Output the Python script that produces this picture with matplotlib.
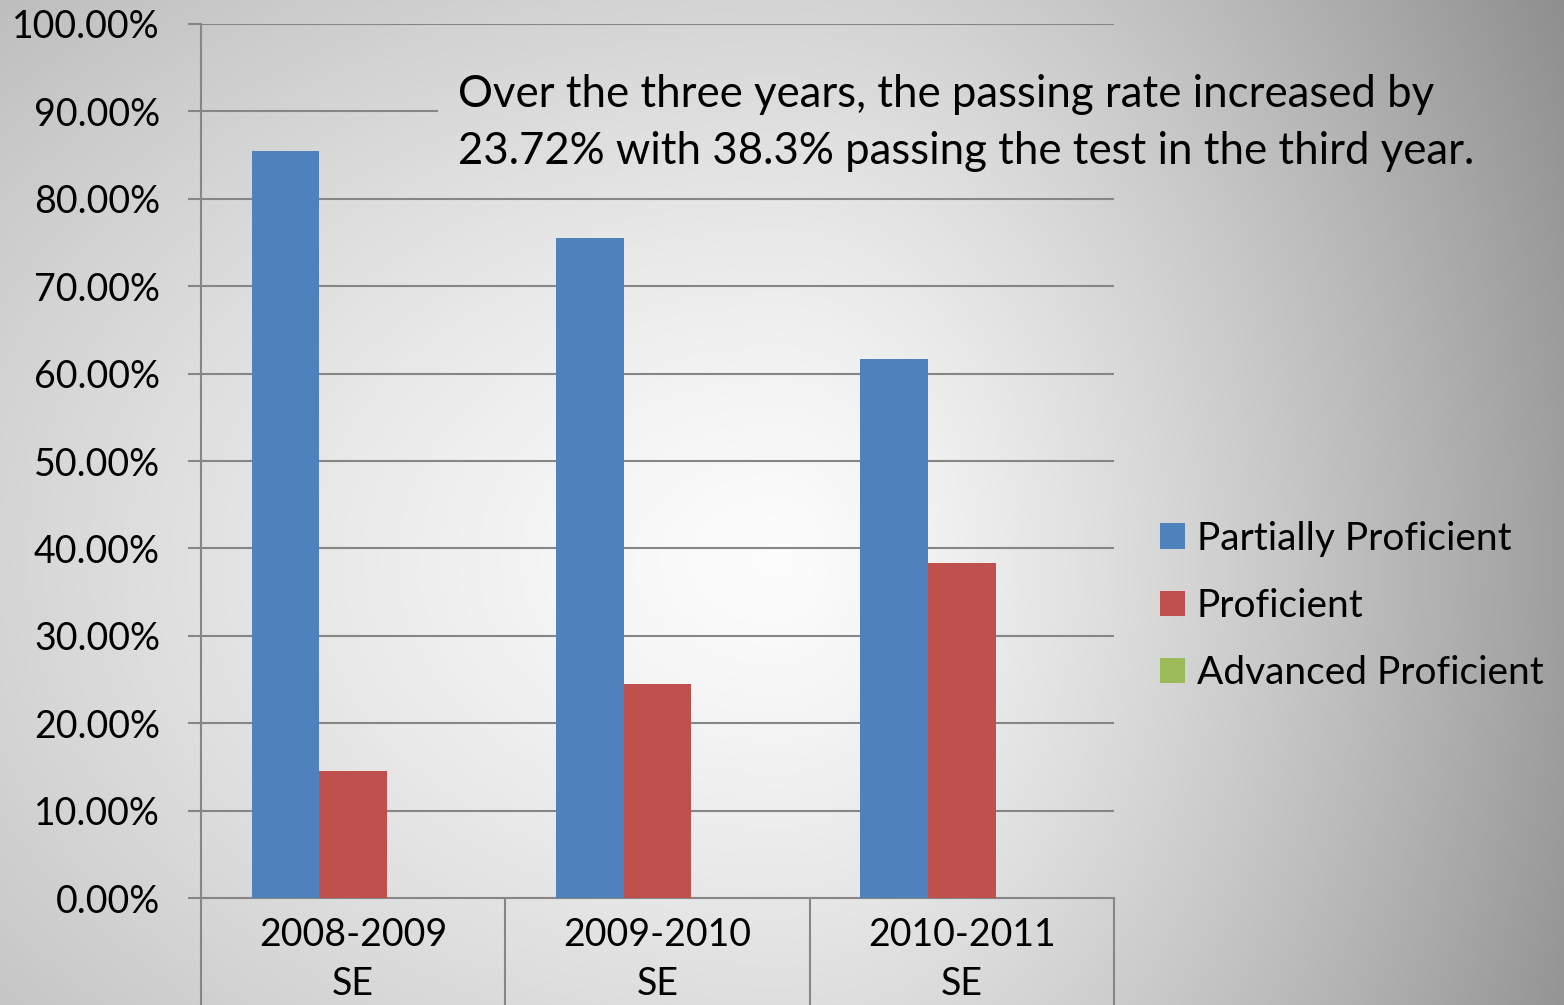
import numpy as np
import matplotlib
matplotlib.use("Agg")
import matplotlib.pyplot as plt
from matplotlib.patches import Patch

plt.rcParams['font.family'] = ['Lato', 'DejaVu Sans']

categories = ["2008-2009\nSE", "2009-2010\nSE", "2010-2011\nSE"]
series_names = ["Partially Proficient", "Proficient", "Advanced Proficient"]
partially = [85.42, 75.5, 61.7]
proficient = [14.58, 24.5, 38.3]
advanced = [0.0, 0.0, 0.0]
series_values = [partially, proficient, advanced]
colors = ["#4F81BD", "#C0504D", "#9BBB59"]
yticks = [0, 10, 20, 30, 40, 50, 60, 70, 80, 90, 100]
ytick_labels = ["%.2f%%" % v for v in yticks]
note_lines = ["Over the three years, the passing rate increased by",
              "23.72% with 38.3% passing the test in the third year."]

W, H = 1564, 1005
fig = plt.figure(figsize=(W / 100, H / 100), dpi=100)

# background gradient
bg = fig.add_axes([0, 0, 1, 1], zorder=-10)
yy, xx = np.mgrid[0:H, 0:W].astype(float)
cx, cy = 780.0, 560.0
dx = xx - cx
dx = np.where(dx > 0, dx / 784.0, dx / 1530.0)
dy = (yy - cy) / 1070.0
r = np.sqrt(dx ** 2 + dy ** 2)
b = np.clip(0.99 - 0.37 * r ** 1.3, 0, 1)
img = np.dstack([b, b, b])
bg.imshow(img, aspect='auto', extent=[0, 1, 0, 1], origin='upper')
bg.axis('off')

left, right = 201 / W, 1114 / W
bottom, top = 1 - 898 / H, 1 - 24 / H
ax = fig.add_axes([left, bottom, right - left, top - bottom])
ax.patch.set_alpha(0)

n = len(series_values)
w = 1 / (n + 1.5)
x = np.arange(len(categories))
for i, (vals, c, name) in enumerate(zip(series_values, colors, series_names)):
    ax.bar(x + (i - 1) * w, vals, width=w, color=c, label=name, zorder=3)

ax.set_xlim(-0.5, len(categories) - 0.5)
ax.set_ylim(0, 100)
grid_col = "#868686"
for t in yticks[1:]:
    xmax = (437 - 201) / (1114 - 201) if t == 90 else 1
    ax.axhline(t, xmin=0, xmax=xmax, color=grid_col, lw=1.5, zorder=1)

ax.set_yticks(yticks)
ax.set_yticklabels(ytick_labels)
ax.tick_params(axis='y', length=9.5, width=1.5, color=grid_col, pad=20,
               labelsize=27, labelcolor='black')
ax.set_xticks(x)
ax.set_xticklabels(categories, linespacing=1.45)
ax.tick_params(axis='x', which='major', length=0, pad=14, labelsize=27)
ax.set_xticks(np.arange(len(categories) + 1) - 0.5, minor=True)
ax.tick_params(axis='x', which='minor', length=90, width=1.5, color=grid_col)

for s in ['top', 'right']:
    ax.spines[s].set_visible(False)
for s in ['left', 'bottom']:
    ax.spines[s].set_color(grid_col)
    ax.spines[s].set_linewidth(1.5)

fig.text(458 / W, 1 - 107 / H, note_lines[0], fontsize=31.5, va='baseline', ha='left')
fig.text(458 / W, 1 - 164 / H, note_lines[1], fontsize=31.5, va='baseline', ha='left')

handles = [Patch(facecolor=c, edgecolor='none') for c in colors]
fig.legend(handles, series_names, loc='upper left',
           bbox_to_anchor=(1160 / W, 1 - 521 / H), frameon=False,
           fontsize=28, handlelength=0.64, handleheight=0.64,
           handletextpad=0.3, labelspacing=0.8, borderaxespad=0, borderpad=0)

fig.savefig("out.png", dpi=100)
